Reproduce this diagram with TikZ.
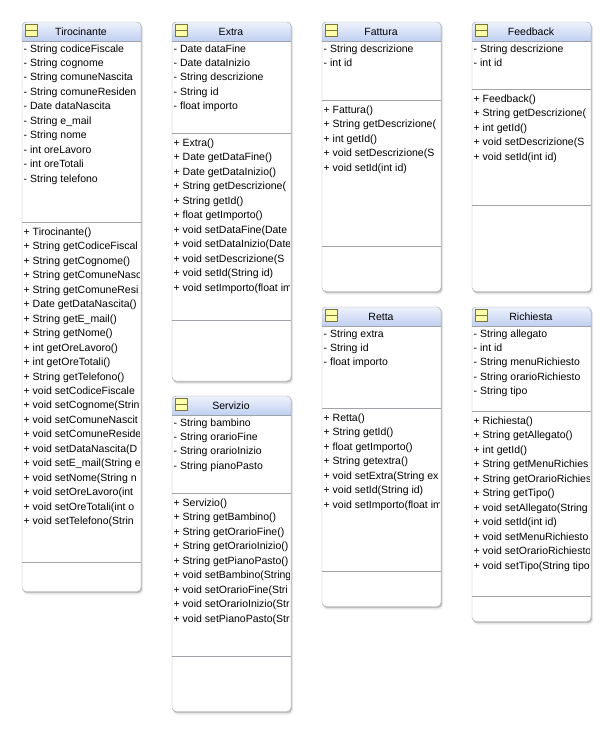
\documentclass[tikz,border=0pt]{standalone}
\usepackage{fontspec}
\setmainfont{Liberation Sans}
\definecolor{frame}{HTML}{A0A4A8}
\definecolor{headtop}{HTML}{EEF2FC}
\definecolor{headbot}{HTML}{C0D0F2}
\definecolor{icon}{HTML}{FFFFA8}
\definecolor{iconline}{HTML}{77773C}
\tikzset{
  member/.style={anchor=base west,inner sep=0pt,font=\fontsize{10.5}{12}\selectfont},
  title/.style={anchor=base,inner sep=0pt,font=\fontsize{10.5}{12}\selectfont}
}
% id, title, left, top, first rule, second rule, bottom, fields, methods
\newcommand{\umlclass}[9]{
  % Shadow
  \fill[black!8,rounded corners=4pt] (#3+1,#4+2) rectangle (#3+121,#7+3);
  \fill[black!25,rounded corners=4pt] (#3+1,#4+1) rectangle (#3+120,#7+1.5);
  \fill[white,rounded corners=4pt] (#3,#4) rectangle (#3+119,#7);
  % Header
  \shade[top color=headtop,bottom color=headbot] (#3,#4+19) [rounded corners=4pt] -- (#3,#4) -- (#3+119,#4) [sharp corners] -- (#3+119,#4+19) -- cycle;
  \draw[iconline,fill=icon] (#3+3.5,#4+2.5) rectangle (#3+15.5,#4+14);
  \draw[iconline] (#3+3.5,#4+8.5) -- (#3+15.5,#4+8.5);
  \node[title] (#1title) at (#3+59,#4+13.7) {#2};
  % Texts, cut at the right side
  \begin{scope}
    \clip (#3,#4+19) rectangle (#3+117,#7);
    \foreach \txt [count=\i] in {#8} {
      \node[member] (#1field\i) at (#3+1.5,#4+30+14.45*\i-14.45) {\txt};
    }
    \foreach \txt [count=\i] in {#9} {
      \node[member] (#1method\i) at (#3+1.5,#5+13.5+14.45*\i-14.45) {\txt};
    }
  \end{scope}
  % Frame
  \draw[frame] (#3,#4+19) -- (#3+119,#4+19);
  \draw[frame] (#3,#5) -- (#3+119,#5);
  \draw[frame] (#3,#6) -- (#3+119,#6);
  \draw[frame,rounded corners=4pt] (#3,#4) rectangle (#3+119,#7);
}
\begin{document}
\begin{tikzpicture}[x=1pt,y=-1pt]
  \useasboundingbox (0,0) rectangle (612,732);

  % Tirocinante
  \umlclass{tir}{Tirocinante}{22}{22}{222}{562}{591.5}
    {- String codiceFiscale,- String cognome,- String comuneNascita,- String comuneResiden,- Date dataNascita,- String e\_mail,- String nome,- int oreLavoro,- int oreTotali,- String telefono}
    {+ Tirocinante(),+ String getCodiceFiscal,+ String getCognome(),+ String getComuneNasc,+ String getComuneResi,+ Date getDataNascita(),+ String getE\_mail(),+ String getNome(),+ int getOreLavoro(),+ int getOreTotali(),+ String getTelefono(),+ void setCodiceFiscale,+ void setCognome(Strin,+ void setComuneNascit,+ void setComuneReside,+ void setDataNascita(D,+ void setE\_mail(String e,+ void setNome(String n,+ void setOreLavoro(int,+ void setOreTotali(int o,+ void setTelefono(Strin}

  % Extra
  \umlclass{ext}{Extra}{172}{22}{133}{320}{381}
    {- Date dataFine,- Date dataInizio,- String descrizione,- String id,- float importo}
    {+ Extra(),+ Date getDataFine(),+ Date getDataInizio(),+ String getDescrizione(,+ String getId(),+ float getImporto(),+ void setDataFine(Date,+ void setDataInizio(Date,+ void setDescrizione(S,+ void setId(String id),+ void setImporto(float im}

  % Servizio
  \umlclass{ser}{Servizio}{172}{396}{493}{656}{711.5}
    {- String bambino,- String orarioFine,- String orarioInizio,- String pianoPasto}
    {+ Servizio(),+ String getBambino(),+ String getOrarioFine(),+ String getOrarioInizio(),+ String getPianoPasto(),+ void setBambino(String,+ void setOrarioFine(Stri,+ void setOrarioInizio(Str,+ void setPianoPasto(Str}

  % Fattura
  \umlclass{fat}{Fattura}{322}{22}{100}{246.5}{291.5}
    {- String descrizione,- int id}
    {+ Fattura(),+ String getDescrizione(,+ int getId(),+ void setDescrizione(S,+ void setId(int id)}

  % Retta
  \umlclass{ret}{Retta}{322}{307}{408}{571}{606.5}
    {- String extra,- String id,- float importo}
    {+ Retta(),+ String getId(),+ float getImporto(),+ String getextra(),+ void setExtra(String ex,+ void setId(String id),+ void setImporto(float im}

  % Feedback
  \umlclass{fee}{Feedback}{472}{22}{89}{205.5}{291.5}
    {- String descrizione,- int id}
    {+ Feedback(),+ String getDescrizione(,+ int getId(),+ void setDescrizione(S,+ void setId(int id)}

  % Richiesta
  \umlclass{ric}{Richiesta}{472}{307}{411}{596}{621.5}
    {- String allegato,- int id,- String menuRichiesto,- String orarioRichiesto,- String tipo}
    {+ Richiesta(),+ String getAllegato(),+ int getId(),+ String getMenuRichies,+ String getOrarioRichies,+ String getTipo(),+ void setAllegato(String,+ void setId(int id),+ void setMenuRichiesto,+ void setOrarioRichiesto,+ void setTipo(String tipo}
\end{tikzpicture}
\end{document}
